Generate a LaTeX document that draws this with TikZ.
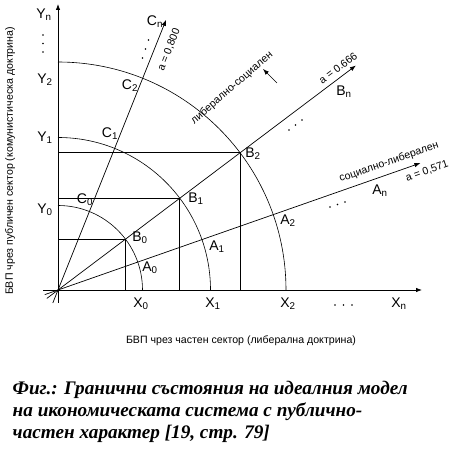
\documentclass[tikz,border=0pt]{standalone}
\usepackage{fontspec}
\setmainfont{Liberation Sans}
\newfontfamily\capfont{Liberation Serif}
\usetikzlibrary{arrows.meta,calc}
\begin{document}
\begin{tikzpicture}[x=1pt,y=1pt,
  axisline/.style={line width=0.8pt},
  rayline/.style={line width=0.7pt},
  arcline/.style={line width=0.6pt},
  arr/.style={-{Latex[length=6pt,width=4.5pt]}},
  lab/.style={font=\fontsize{14}{14}\selectfont, inner sep=0pt},
  small/.style={font=\fontsize{10.6}{12}\selectfont, inner sep=0pt},
  caption/.style={font=\capfont\bfseries\itshape\fontsize{19.2}{22}\selectfont, inner sep=0pt, anchor=base west},
  pt/.style={circle, fill, inner sep=0pt, minimum size=1.7pt}]
\useasboundingbox (0,0) rectangle (453,-449);
\coordinate (O) at (58,-290);
% axes
\coordinate (xs) at (43,-290);
\coordinate (xe) at (422,-290);
\coordinate (ys) at (58,-303);
\coordinate (ye) at (58,-4);
\draw[axisline,arr] (xs) -- (xe);
\draw[axisline,arr] (ys) -- (ye);
% rays
\coordinate (Cb) at ($(O)+(248.2:14)$);
\coordinate (Ce) at ($(O)+(68.2:291)$);
\coordinate (Bb) at ($(O)+(217:14)$);
\coordinate (Be) at ($(O)+(37:373)$);
\coordinate (Ab) at ($(O)+(199.3:14)$);
\coordinate (Ae) at ($(O)+(19.3:384)$);
\draw[rayline,arr] (Cb) -- (Ce);
\draw[rayline,arr] (Bb) -- (Be);
\draw[rayline,arr] (Ab) -- (Ae);
% arcs
\draw[arcline] ($(O)+(84.5,0)$) arc[start angle=0,end angle=90,radius=84.5];
\draw[arcline] ($(O)+(152.5,0)$) arc[start angle=0,end angle=90,radius=152.5];
\draw[arcline] ($(O)+(228,0)$) arc[start angle=0,end angle=90,radius=228];
% B points and projections
\coordinate (B0) at ($(O)+(37:84.5)$);
\coordinate (B1) at ($(O)+(37:152.5)$);
\coordinate (B2) at ($(O)+(37:228)$);
\foreach \p in {B0,B1,B2}{
  \draw[rayline] (O |- \p) -- (\p) -- (\p |- O);
}
% labels on y axis
\node[lab] (Yn) at (44,-15) {Y\textsubscript{n}};
\node[lab] (Y2) at (45,-80) {Y\textsubscript{2}};
\node[lab] (Y1) at (45,-138) {Y\textsubscript{1}};
\node[lab] (Y0) at (45,-210) {Y\textsubscript{0}};
\node[pt] (yd1) at (43,-35) {};
\node[pt] (yd2) at (43,-43.5) {};
\node[pt] (yd3) at (43,-52) {};
% labels on x axis
\node[lab] (X0) at (141,-304) {X\textsubscript{0}};
\node[lab] (X1) at (213,-304) {X\textsubscript{1}};
\node[lab] (X2) at (288,-304) {X\textsubscript{2}};
\node[lab] (Xn) at (399,-304) {X\textsubscript{n}};
\node[pt] (xd1) at (335,-305) {};
\node[pt] (xd2) at (343.5,-305) {};
\node[pt] (xd3) at (352,-305) {};
% C labels
\node[lab] (C0) at (85,-200) {C\textsubscript{0}};
\node[lab] (C1) at (110,-134) {C\textsubscript{1}};
\node[lab] (C2) at (130,-86) {C\textsubscript{2}};
\node[lab] (Cn) at (155,-22) {C\textsubscript{n}};
\node[pt] (cd1) at (142.5,-58) {};
\node[pt] (cd2) at (145.5,-49) {};
\node[pt] (cd3) at (148.5,-40) {};
\node[small, rotate=68.2] (a800) at (169,-50) {a = 0,800};
% B labels
\node[lab] (LB0) at (140,-238) {B\textsubscript{0}};
\node[lab] (LB1) at (196,-199) {B\textsubscript{1}};
\node[lab] (LB2) at (253,-154) {B\textsubscript{2}};
\node[lab] (Bn) at (344,-92) {B\textsubscript{n}};
\node[pt] (bd1) at (289,-130) {};
\node[pt] (bd2) at (295.5,-125) {};
\node[pt] (bd3) at (302,-120) {};
\node[small, rotate=37] (a666) at (338,-68) {a = 0.666};
% A labels
\node[lab] (A0) at (150,-268) {A\textsubscript{0}};
\node[lab] (A1) at (217,-247) {A\textsubscript{1}};
\node[lab] (A2) at (288,-221) {A\textsubscript{2}};
\node[lab] (An) at (380,-191) {A\textsubscript{n}};
\node[pt] (ad1) at (330,-207) {};
\node[pt] (ad2) at (337.5,-204.5) {};
\node[pt] (ad3) at (345,-202) {};
\node[small, rotate=19.3] (socl) at (389,-162) {социално-либерален};
\node[small, rotate=19.3] (a571) at (427,-171) {a = 0,571};
% liberal-social
\node[small, rotate=41] (libs) at (232,-88) {либерално-социален};
\coordinate (sa) at (277,-83);
\coordinate (sb) at (263,-69);
\draw[rayline,arr] (sa) -- (sb);
% axis titles
\node[small] (xt) at (241,-341) {БВП чрез частен сектор (либерална доктрина)};
\node[small, rotate=90] (yt) at (10,-161) {БВП чрез публичен сектор (комунистическа доктрина)};
% caption
\node[caption] (cap1) at (12.5,-395) {Фиг.: Гранични състояния на идеалния модел};
\node[caption] (cap2) at (12.5,-416.7) {на икономическата система с публично-};
\node[caption] (cap3) at (12.5,-438.3) {частен характер [19, стр. 79]};
\end{tikzpicture}
\end{document}
